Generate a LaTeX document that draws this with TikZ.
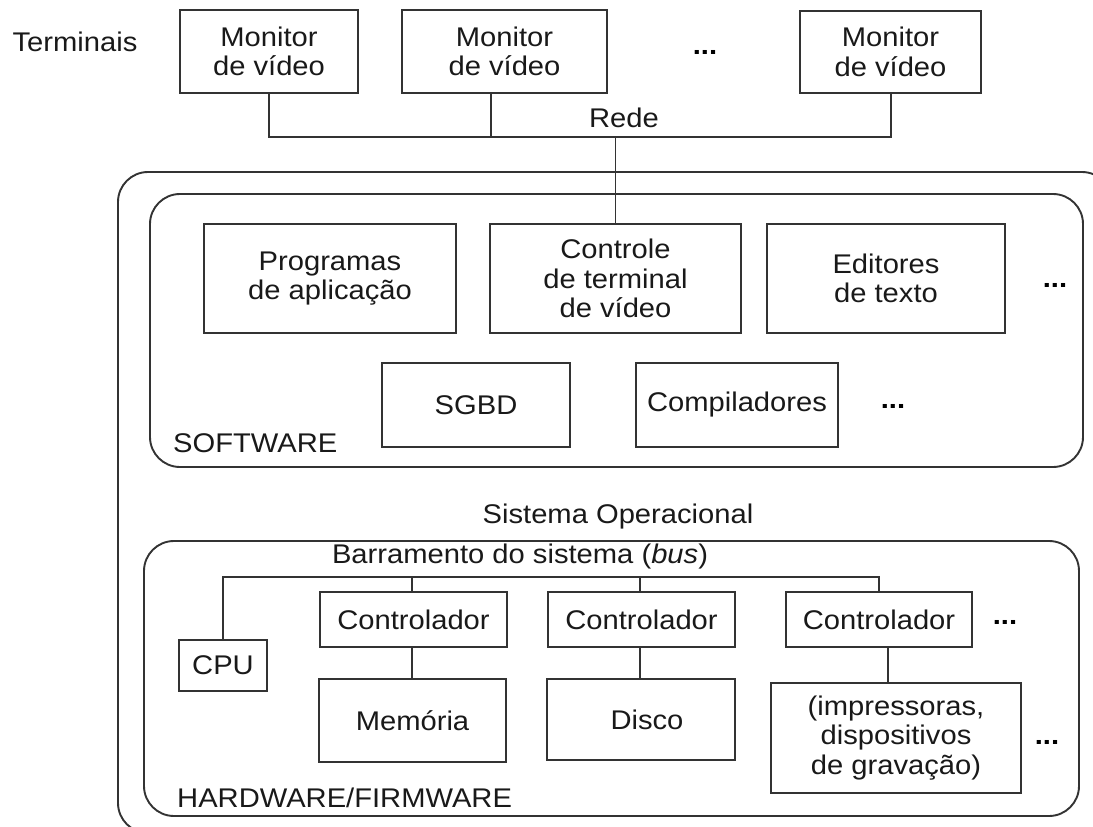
\documentclass[tikz,border=0pt]{standalone}
\usepackage{fontspec}
\setmainfont{Liberation Sans}[FakeStretch=1.08]
\begin{document}
\begin{tikzpicture}[x=1pt,y=-1pt,
  ln/.style={draw=black!80, line width=1.9pt},
  box/.style={ln, rectangle, inner sep=0pt, align=center, text=black!90,
    font=\fontsize{27}{29.5}\selectfont},
  lbl/.style={inner sep=0pt, text=black!90, font=\fontsize{27}{29.5}\selectfont},
  dots/.style={inner sep=0pt, text=black, font=\fontsize{27}{30}\selectfont\bfseries},
  grp/.style={ln, rounded corners=30pt}]
\useasboundingbox (0,0) rectangle (1093,827);
\clip (0,0) rectangle (1093,827);
% groups
\draw[grp] (118,172) rectangle (1112,833);
\draw[grp] (150,194) rectangle (1083,467);
\draw[grp] (144,541) rectangle (1079,816);
% terminals
\node[lbl] (term) at (75,42) {Terminais};
\node[box, minimum width=178, minimum height=83] (m1) at (269,51.5) {Monitor\\de vídeo};
\node[box, minimum width=205, minimum height=83] (m2) at (504.5,51.5) {Monitor\\de vídeo};
\node[box, minimum width=181, minimum height=82] (m3) at (890.5,52) {Monitor\\de vídeo};
\node[dots] (d0) at (705,52) {...};
\node[lbl] (rede) at (624,118) {Rede};
% software
\node[box, minimum width=252, minimum height=109] (prog) at (330,278.5) {Programas\\de aplicação};
\node[box, minimum width=251, minimum height=109] (ctl) at (615.5,278.5) {Controle\\de terminal\\de vídeo};
\node[box, minimum width=238, minimum height=109] (edit) at (886,278.5) {Editores\\de texto};
\node[dots] (d1) at (1055,285) {...};
\node[box, minimum width=188, minimum height=84] (sgbd) at (476,405) {SGBD};
\node[box, minimum width=202, minimum height=84] (comp) at (737,405) {Compiladores};
\node[dots] (d2) at (893,406) {...};
\node[lbl, anchor=west] (sw) at (173,443) {SOFTWARE};
\node[lbl] (so) at (618,517) {Sistema Operacional};
% hardware
\node[lbl] (bus) at (520,557) {Barramento do sistema (\textit{bus})};
\node[box, minimum width=88, minimum height=51] (cpu) at (223,665.5) {CPU};
\node[box, minimum width=187, minimum height=55] (c1) at (413.5,619.5) {Controlador};
\node[box, minimum width=187, minimum height=83] (mem) at (412.5,720.5) {Memória};
\node[box, minimum width=187, minimum height=55] (c2) at (641.5,619.5) {Controlador};
\node[box, minimum width=188, minimum height=81] (disco) at (641,719.5) {\hspace{12pt}Disco};
\node[box, minimum width=186, minimum height=55] (c3) at (879,619.5) {Controlador};
\node[box, minimum width=250, minimum height=110] (imp) at (896,738) {(impressoras,\\dispositivos\\de gravação)};
\node[dots] (d3) at (1005,622) {...};
\node[dots] (d4) at (1047,742) {...};
\node[lbl, anchor=west] (hw) at (177,798) {HARDWARE/FIRMWARE};
% network
\coordinate (n1) at (269,137);
\coordinate (n2) at (491,137);
\coordinate (n3) at (891,137);
\coordinate (nc) at (615.5,137);
\draw[ln] (m1.south) -- (n1) -- (n3) -- (m3.south -| n3);
\draw[ln] (m2.south -| n2) -- (n2);
\draw[ln] (nc) -- (ctl.north);
% bus
\coordinate (b0) at (223,577);
\coordinate (b1) at (412,577);
\coordinate (b2) at (640,577);
\coordinate (b3) at (879,577);
\draw[ln] (cpu.north) -- (b0) -- (b3) -- (c3.north);
\draw[ln] (b1) -- (c1.north -| b1);
\draw[ln] (b2) -- (c2.north -| b2);
\draw[ln] (c1.south -| b1) -- (mem.north -| b1);
\draw[ln] (c2.south -| b2) -- (disco.north -| b2);
\coordinate (i3) at (888,647);
\draw[ln] (i3) -- (imp.north -| i3);
\end{tikzpicture}
\end{document}
